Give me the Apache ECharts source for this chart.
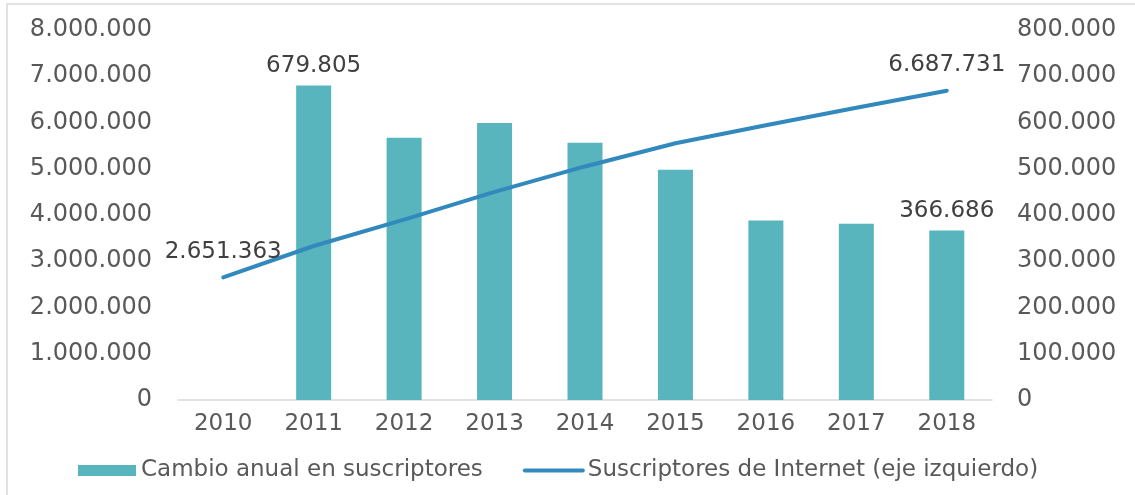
<!DOCTYPE html>
<html>
<head>
<meta charset="utf-8">
<script src="https://cdn.jsdelivr.net/npm/echarts@6/dist/echarts.min.js"></script>
<style>
  html, body { margin: 0; padding: 0; background: #fff; }
  #main { width: 1135px; height: 495px; }
</style>
</head>
<body>
<div id="main"></div>
<script>
const years = ['2010', '2011', '2012', '2013', '2014', '2015', '2016', '2017', '2018'];
// cambio anual (eje derecho)
const cambioAnual = [null, 679805, 567000, 599000, 556000, 498000, 388000, 381000, 366686];
// suscriptores de internet (eje izquierdo)
const suscriptores = [2651363, 3330000, 3900000, 4500000, 5050000, 5550000, 5940000, 6320000, 6687731];
const barLabelIdx = [1, 8];
const lineLabelIdx = [0, 8];

const fmt = v => String(Math.round(v)).replace(/\B(?=(\d{3})+(?!\d))/g, '.');
const FONT = 'DejaVu Sans';
const TXT = '#595959';

let chart = echarts.init(document.getElementById('main'));

let option = {
  animation: false,
  textStyle: { fontFamily: FONT },
  graphic: [{
    type: 'rect',
    shape: { x: 7, y: 4, width: 1200, height: 600 },
    style: { fill: 'none', stroke: '#d9d9d9', lineWidth: 1.5 },
    silent: true
  }],
  grid: { left: 178, right: 143, top: 30, bottom: 95 },
  legend: {
    left: 73,
    top: 454,
    itemGap: 40,
    itemWidth: 58,
    itemHeight: 11,
    textStyle: { fontFamily: FONT, fontSize: 23, color: TXT },
    data: [
      { name: 'Cambio anual en suscriptores', icon: 'rect' },
      {
        name: 'Suscriptores de Internet (eje izquierdo)',
        itemStyle: { opacity: 0 },
        lineStyle: { width: 4, cap: 'round' }
      }
    ]
  },
  xAxis: {
    type: 'category',
    data: years,
    axisLine: { lineStyle: { color: '#d9d9d9', width: 1.5 } },
    axisTick: { show: false },
    axisLabel: { color: TXT, fontSize: 23, fontFamily: FONT, margin: 13 }
  },
  yAxis: [
    {
      type: 'value',
      min: 0, max: 8000000, interval: 1000000,
      splitLine: { show: false },
      axisLabel: { color: TXT, fontSize: 24, fontFamily: FONT, margin: 26, formatter: fmt }
    },
    {
      type: 'value',
      min: 0, max: 800000, interval: 100000,
      splitLine: { show: false },
      axisLabel: { color: TXT, fontSize: 24, fontFamily: FONT, margin: 25, formatter: fmt }
    }
  ],
  series: [
    {
      name: 'Cambio anual en suscriptores',
      type: 'bar',
      yAxisIndex: 1,
      barWidth: 35,
      itemStyle: { color: '#58b4bd' },
      data: cambioAnual.map((v, i) => ({
        value: v,
        label: {
          show: barLabelIdx.includes(i),
          position: 'top',
          distance: 8,
          color: '#404040',
          fontSize: 23,
          fontFamily: FONT,
          formatter: p => fmt(p.value)
        }
      }))
    },
    {
      name: 'Suscriptores de Internet (eje izquierdo)',
      type: 'line',
      yAxisIndex: 0,
      symbol: 'circle',
      symbolSize: 0,
      showSymbol: true,
      lineStyle: { color: '#3189bd', width: 4, cap: 'round' },
      itemStyle: { color: '#3189bd' },
      data: suscriptores.map((v, i) => ({
        value: v,
        label: {
          show: lineLabelIdx.includes(i),
          position: 'top',
          distance: 14,
          color: '#404040',
          fontSize: 23,
          fontFamily: FONT,
          formatter: p => fmt(p.value)
        }
      }))
    }
  ]
};

chart.setOption(option);
</script>
</body>
</html>
